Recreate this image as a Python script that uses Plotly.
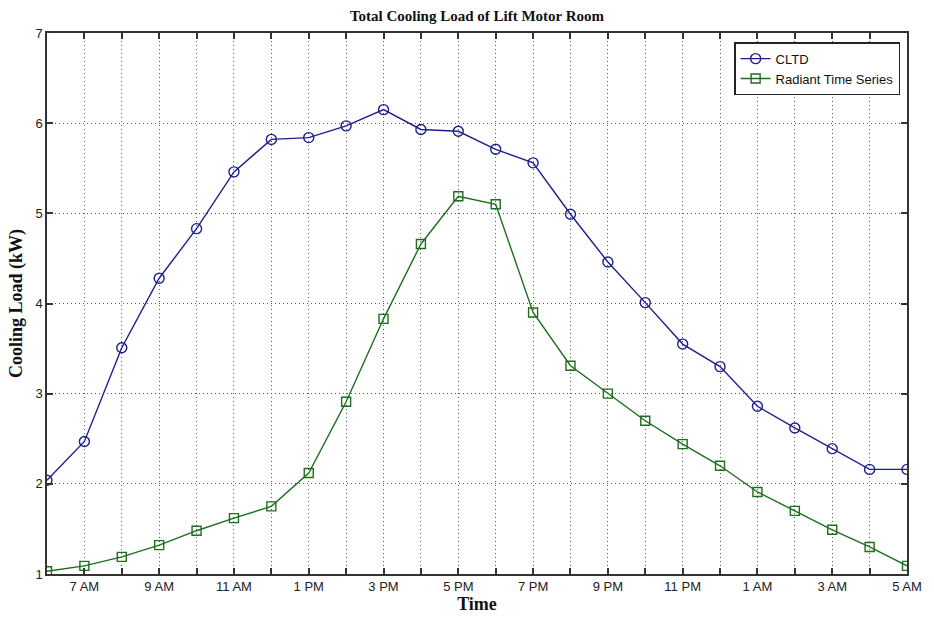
import plotly.graph_objects as go

hours = ["6 AM", "7 AM", "8 AM", "9 AM", "10 AM", "11 AM", "12 PM", "1 PM", "2 PM", "3 PM",
         "4 PM", "5 PM", "6 PM", "7 PM", "8 PM", "9 PM", "10 PM", "11 PM", "12 AM", "1 AM",
         "2 AM", "3 AM", "4 AM", "5 AM"]
cltd = [2.04, 2.47, 3.51, 4.28, 4.83, 5.46, 5.82, 5.84, 5.97, 6.15, 5.93, 5.91,
        5.71, 5.56, 4.99, 4.46, 4.01, 3.55, 3.30, 2.86, 2.62, 2.39, 2.16, 2.16]
rts = [1.03, 1.09, 1.19, 1.32, 1.48, 1.62, 1.75, 2.12, 2.91, 3.83, 4.66, 5.19,
       5.10, 3.90, 3.31, 3.00, 2.70, 2.44, 2.20, 1.91, 1.70, 1.49, 1.30, 1.09]
y_ticks = [1, 2, 3, 4, 5, 6, 7]

idx = list(range(len(hours)))
ticktext = [h if i % 2 == 1 else "" for i, h in enumerate(hours)]

fig = go.Figure()
fig.add_trace(go.Scatter(x=idx, y=cltd, mode="lines+markers", name="CLTD",
                         line=dict(color="#1f1f8c", width=1.4),
                         marker=dict(symbol="circle-open", size=10, color="#1f1f8c", line=dict(width=1.4))))
fig.add_trace(go.Scatter(x=idx, y=rts, mode="lines+markers", name="Radiant Time Series",
                         line=dict(color="#1e6e1e", width=1.4),
                         marker=dict(symbol="square-open", size=9, color="#1e6e1e", line=dict(width=1.4))))

axis_common = dict(showline=True, linecolor="#333", linewidth=1.5, mirror="ticks",
                   ticks="inside", ticklen=6, tickcolor="#333", tickwidth=1.5,
                   showgrid=True, gridcolor="#555", griddash="1px,3px", gridwidth=1.3,
                   zeroline=False, tickfont=dict(family="Liberation Sans, Arial", size=13, color="#222"))

fig.update_xaxes(range=[0, 23], tickvals=idx, ticktext=ticktext,
                 title=dict(text="<b>Time</b>", font=dict(family="Liberation Serif, Times New Roman", size=18, color="#111"),
                            standoff=2),
                 **axis_common)
fig.update_yaxes(range=[1, 7], tickvals=y_ticks,
                 title=dict(text="<b>Cooling Load (kW)</b>", font=dict(family="Liberation Serif, Times New Roman", size=18, color="#111"),
                            standoff=8),
                 **axis_common)

fig.update_layout(
    width=934, height=621,
    margin=dict(l=47, r=17, t=33, b=45),
    paper_bgcolor="white", plot_bgcolor="white",
    title=dict(text="<b>Total Cooling Load of Lift Motor Room</b>", x=0.5, xref="paper", y=0.975, yanchor="middle",
               font=dict(family="Liberation Serif, Times New Roman", size=15, color="#111")),
    legend=dict(x=0.992, y=0.983, xanchor="right", yanchor="top", bgcolor="white",
                bordercolor="#222", borderwidth=1.5, font=dict(family="Liberation Sans, Arial", size=13, color="#111"),
                tracegroupgap=0),
    showlegend=True,
)

fig.write_html("out.html")
